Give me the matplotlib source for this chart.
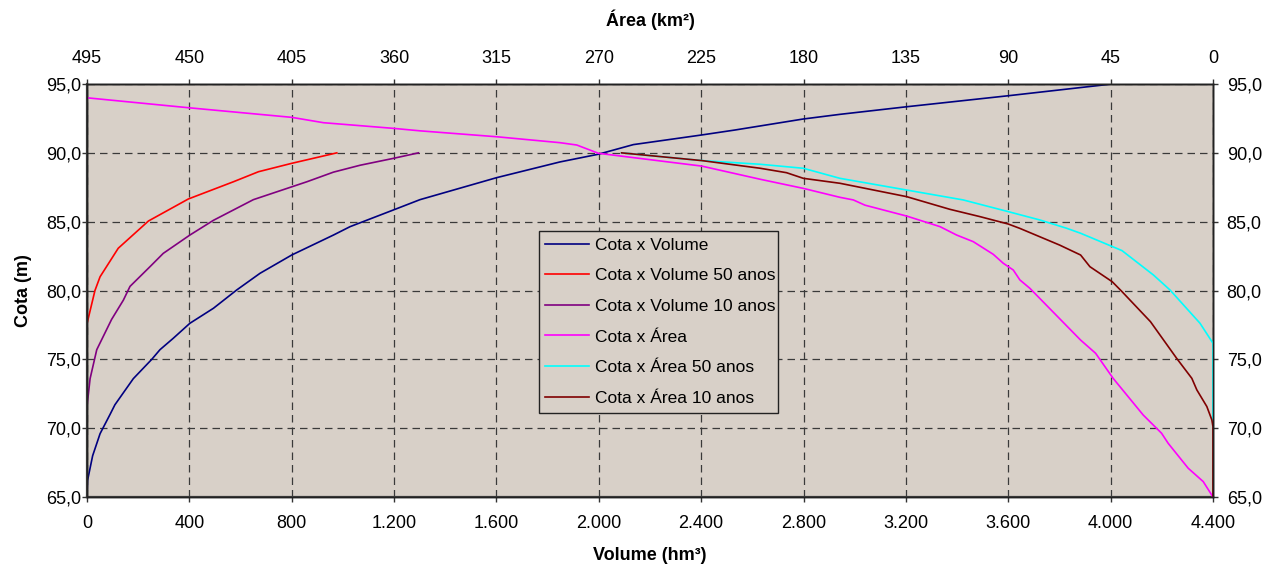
import matplotlib.pyplot as plt
from matplotlib.ticker import FuncFormatter

plt.rcParams["font.family"] = ["Liberation Sans", "DejaVu Sans"]

# Cota x Volume (hm3)
vol_atual = [0, 2, 22, 51, 90, 109, 181, 253, 285, 337, 402, 494, 585, 676, 800, 963,
             1028, 1197, 1301, 1601, 1848, 1998, 2135, 2402, 2532, 2799, 2943, 3203,
             3600, 4004]
cota_vol_atual = [65.0, 66.2, 68.0, 69.6, 71.0, 71.7, 73.6, 75.0, 75.7, 76.53, 77.62,
                  78.71, 80.04, 81.25, 82.58, 84.03, 84.64, 85.85, 86.6, 88.2, 89.34,
                  89.9, 90.6, 91.3, 91.66, 92.46, 92.8, 93.35, 94.15, 95.0]

vol_50 = [0, 0, 31, 51, 122, 240, 396, 572, 670, 800, 976]
cota_vol_50 = [65.0, 77.6, 80.0, 81.0, 83.07, 85.05, 86.65, 87.9, 88.63, 89.24, 90.0]

vol_10 = [0, 0, 12, 38, 96, 142, 168, 246, 298, 402, 494, 650, 859, 963, 1067, 1197,
          1295]
cota_vol_10 = [65.0, 71.6, 73.6, 75.7, 77.9, 79.3, 80.3, 81.73, 82.7, 84.03, 85.1,
               86.6, 87.9, 88.6, 89.1, 89.6, 90.0]

# Cota x Area (km2)
area_atual = [495, 450.5, 405, 391, 360.3, 348.6, 314.9, 287.1, 279.7, 270.2, 224.8,
              199, 180.1, 164, 158.1, 153, 134.7, 120, 112.7, 105.4, 96.6, 92.2, 87.8,
              84.9, 80.5, 58.2, 51.6, 43.9, 30.7, 22.6, 19.7, 10.9, 4.3, 0]
cota_area_atual = [94.0, 93.28, 92.58, 92.19, 91.78, 91.6, 91.17, 90.74, 90.57, 89.97,
                   89.04, 88.08, 87.42, 86.77, 86.58, 86.2, 85.41, 84.64, 84.03, 83.55,
                   82.63, 81.98, 81.49, 80.77, 80.16, 76.4, 75.44, 73.62, 70.96, 69.63,
                   68.9, 67.09, 66.12, 65.0]

area_50 = [260, 224.8, 199, 180.1, 164, 134.7, 109.8, 90, 76, 64.3, 58.2, 40, 26.2,
           18.9, 5.7, 0, 0]
cota_area_50 = [90.0, 89.44, 89.17, 88.88, 88.15, 87.3, 86.58, 85.73, 85.12, 84.52,
                84.16, 82.9, 81.13, 80.04, 77.62, 76.17, 70.1]

area_10 = [260, 224.8, 199, 187.5, 180.1, 164, 134.7, 128.1, 115.7, 102.5, 90, 85,
           76.2, 67.4, 58.2, 54.1, 44.3, 40, 27.5, 16, 9.3, 7.1, 2.7, 0.5, 0, 0]
cota_area_10 = [90.0, 89.44, 88.88, 88.56, 88.15, 87.79, 86.82, 86.5, 85.9, 85.37,
                84.83, 84.52, 83.91, 83.3, 82.58, 81.73, 80.64, 79.92, 77.74, 75.08,
                73.62, 72.78, 71.57, 70.6, 70.1, 65.0]

vol_ticks = list(range(0, 4401, 400))
area_ticks = list(range(495, -1, -45))
cota_ticks = [65, 70, 75, 80, 85, 90, 95]

BG = "#d8d0c8"
GRID = dict(color="#3a3a3a", linestyle=(0, (6, 4)), linewidth=0.9)
TICK_FS = 13
LABEL_FS = 13


def fmt_milhar(v, _pos=None):
    return f"{v:,.0f}".replace(",", ".")


def fmt_cota(v, _pos=None):
    return f"{v:.1f}".replace(".", ",")


fig = plt.figure(figsize=(12.63, 5.64), dpi=100)
ax = fig.add_axes([0.0689, 0.1188, 0.8915, 0.7322])
ax.set_facecolor(BG)
ax_right = ax.twinx()
ax_top = ax.twiny()

lw = 1.2
h1, = ax.plot(vol_atual, cota_vol_atual, color="#000080", lw=lw, label="Cota x Volume")
h2, = ax.plot(vol_50, cota_vol_50, color="#ff0000", lw=lw, label="Cota x Volume 50 anos")
h3, = ax.plot(vol_10, cota_vol_10, color="#800080", lw=lw, label="Cota x Volume 10 anos")
h4, = ax_top.plot(area_atual, cota_area_atual, color="#ff00ff", lw=lw, label="Cota x Área")
h5, = ax_top.plot(area_50, cota_area_50, color="#00ffff", lw=lw, label="Cota x Área 50 anos")
h6, = ax_top.plot(area_10, cota_area_10, color="#800000", lw=lw, label="Cota x Área 10 anos")

ax.set_xlim(0, 4400)
ax.set_ylim(65, 95)
ax.set_xticks(vol_ticks)
ax.set_yticks(cota_ticks)
ax.xaxis.set_major_formatter(FuncFormatter(fmt_milhar))
ax.yaxis.set_major_formatter(FuncFormatter(fmt_cota))
ax.grid(True, **GRID)

ax_right.set_ylim(65, 95)
ax_right.set_yticks(cota_ticks)
ax_right.yaxis.set_major_formatter(FuncFormatter(fmt_cota))

ax_top.set_xlim(495, 0)
ax_top.set_xticks(area_ticks)
ax_top.set_ylim(65, 95)

for a in (ax, ax_right, ax_top):
    a.tick_params(labelsize=TICK_FS, length=3.6, width=1, color="#333333")
    for s in a.spines.values():
        s.set_linewidth(1.0)
        s.set_color("#222222")
ax.tick_params(axis="y", pad=0.8)
ax.tick_params(axis="x", pad=9.4)
ax_right.tick_params(axis="y", pad=6.3)
ax_top.tick_params(axis="x", pad=8.5)
ax.spines["left"].set_linewidth(1.6)
ax.spines["bottom"].set_linewidth(1.6)
ax.spines["left"].set_color("#444444")
ax.spines["bottom"].set_color("#444444")

ax.set_xlabel("Volume (hm³)", fontsize=LABEL_FS, fontweight="bold", labelpad=11)
ax.set_ylabel("Cota (m)", fontsize=LABEL_FS, fontweight="bold", labelpad=10)
ax_top.set_xlabel("Área (km²)", fontsize=LABEL_FS, fontweight="bold", labelpad=17.5)

leg = ax_top.legend(handles=[h1, h2, h3, h4, h5, h6],
                    loc="upper left", bbox_to_anchor=(0.401, 0.199, 0.213, 0.446),
                    mode="expand", fontsize=12.5, frameon=True, fancybox=False,
                    handlelength=2.5, handletextpad=0.35, labelspacing=0.89,
                    borderpad=0.4, borderaxespad=0)
leg.get_frame().set_facecolor(BG)
leg.get_frame().set_edgecolor("#222222")
leg.get_frame().set_linewidth(1.0)
leg.get_frame().set_alpha(1)

fig.savefig("out.png", dpi=100)
